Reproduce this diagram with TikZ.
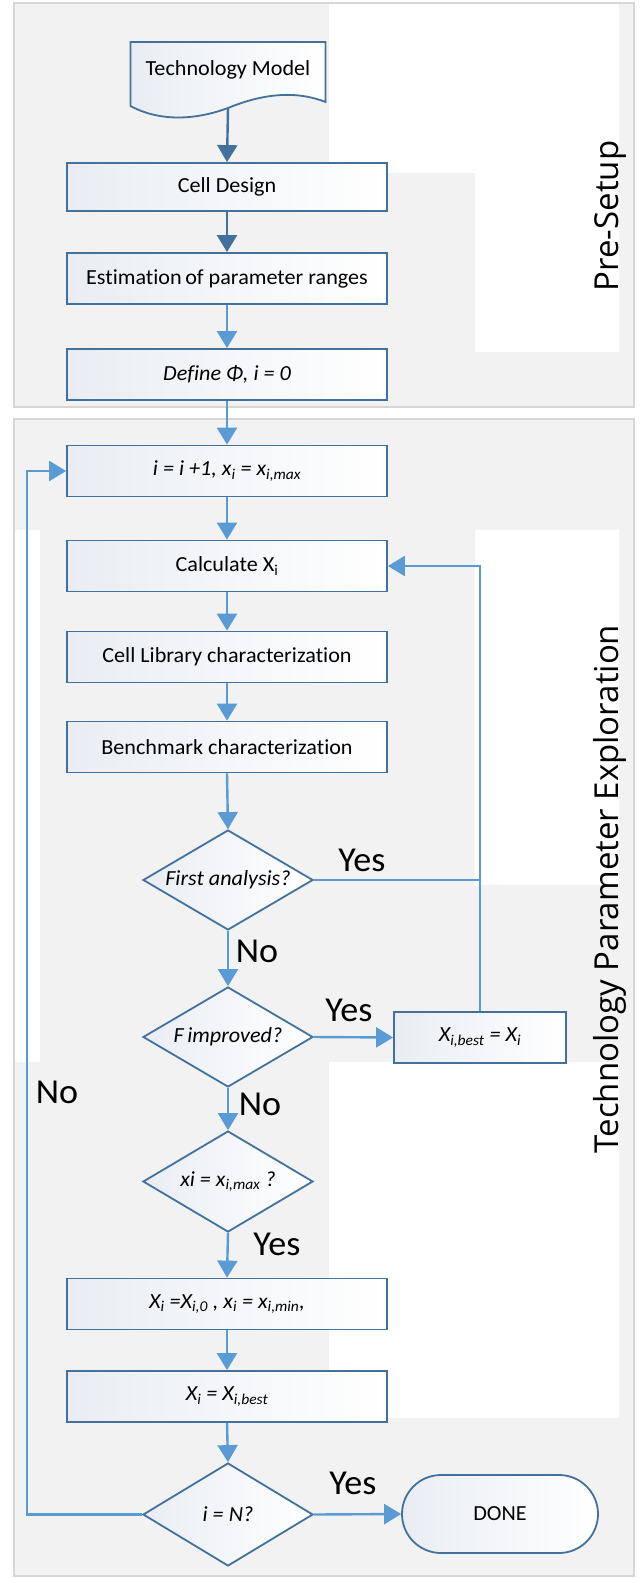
\documentclass[tikz,border=0pt]{standalone}
\usepackage{fontspec}
\setmainfont{Carlito}[Ligatures=NoCommon]
\newfontfamily\boxfam[FakeStretch=1.03,Ligatures=NoCommon,RawFeature={-clig}]{Carlito}
\newfontfamily\titlefam{Open Sans}
\usetikzlibrary{arrows.meta,shapes.geometric}
\definecolor{bdr}{HTML}{41719C}
\definecolor{arr}{HTML}{5B9BD5}
\definecolor{darkarr}{HTML}{41719C}
\definecolor{boxl}{HTML}{E9EDF3}
\definecolor{panelbg}{HTML}{F2F2F2}
\definecolor{panelline}{HTML}{D6D6D6}
\tikzset{
  box/.style={draw=bdr, line width=1.8pt, left color=boxl, right color=white,
    minimum width=320pt, minimum height=51pt, inner sep=0pt,
    font=\boxfam\fontsize{21.5}{25}\selectfont},
  dia/.style={diamond, draw=bdr, line width=1.8pt, left color=boxl, right color=white,
    minimum width=170pt, minimum height=100pt, inner sep=0pt,
    label={[font=\boxfam\itshape\fontsize{21.5}{25}\selectfont]center:#1}},
  lab/.style={font=\boxfam\fontsize{35}{40}\selectfont, inner sep=0pt},
  ttl/.style={font=\titlefam\fontsize{33}{38}\selectfont, rotate=90, anchor=base, inner sep=0pt},
  larr/.style={draw=arr, line width=2.4pt, -{Triangle[length=17pt,width=20pt]}},
  dkarr/.style={draw=darkarr, line width=2.4pt, -{Triangle[length=17pt,width=20pt]}},
  lline/.style={draw=arr, line width=2.4pt},
  panel/.style={draw=panelline, line width=1.5pt},
}
\begin{document}
\begin{tikzpicture}[x=1pt,y=-1pt]
\useasboundingbox (0,0) rectangle (644,1578);
% panels
\fill[panelbg] (14,3) rectangle (634,407);
\fill[panelbg] (14,419) rectangle (634,1576);
\fill[white] (329,4) rectangle (619,173);
\fill[white] (475,173) rectangle (619,352);
\fill[white] (15,530) rectangle (40,1062);
\fill[white] (475,530) rectangle (619,885);
\fill[white] (329,1062) rectangle (619,1418);
\draw[panel] (14,3) rectangle (634,407);
\draw[panel] (14,419) rectangle (634,1576);
% titles
\node[ttl] (t1) at (618,216) {Pre-Setup};
\node[ttl] (t2) at (618,889) {Technology Parameter Exploration};
% document shape
\draw[draw=bdr, line width=1.8pt, left color=boxl, right color=white]
  (130.5,42) -- (325.5,42) -- (325.5,102)
  .. controls (295,90) and (262,94) .. (228,108)
  .. controls (196,120) and (160,122) .. (130.5,106) -- cycle;
\node[font=\boxfam\fontsize{21.5}{25}\selectfont, inner sep=0pt] (tm) at (228,70) {Technology Model};
\coordinate (tmb) at (228,108);
% boxes
\node[box, minimum height=48pt] (cd) at (227,187) {Cell Design};
\node[box] (est) at (227,278.5) {Estimation\,of parameter ranges};
\node[box] (def) at (227,374.5) {\itshape Define Φ, i = 0};
\node[box] (inc) at (227,471) {\itshape i = i +1, x\textsubscript{i} = x\textsubscript{i,max}};
\node[box] (calc) at (227,566) {Calculate X\textsubscript{i}};
\node[box] (lib) at (227,657) {Cell Library characterization};
\node[box] (bench) at (227,747) {Benchmark characterization};
\node[dia={First analysis?}] (d1) at (228,880) {};
\node[dia={F\,improved?}] (d2) at (228,1037) {};
\node[box, minimum width=172pt, font=\boxfam\itshape\fontsize{21.5}{25}\selectfont] (best) at (480,1037.5) {X\textsubscript{i,best} = X\textsubscript{i}};
\node[dia={xi = x\textsubscript{i,max} ?}, minimum height=101pt] (d3) at (228,1181.5) {};
\node[box, font=\boxfam\itshape\fontsize{21.5}{25}\selectfont] (reset) at (227,1304) {X\textsubscript{i} =X\textsubscript{i,0} , x\textsubscript{i} = x\textsubscript{i,min},};
\node[box, font=\boxfam\itshape\fontsize{21.5}{25}\selectfont] (setbest) at (227,1396.5) {X\textsubscript{i} = X\textsubscript{i,best}};
\node[dia={i = N?}, minimum height=103pt] (d4) at (228,1514.5) {};
\node[box, minimum width=196pt, minimum height=78pt, rounded corners=39pt] (done) at (500,1514) {DONE};
% junctions
\coordinate (j1) at (480,880);
\coordinate (j2) at (480,566);
\coordinate (l1) at (27,1514.5);
\coordinate (l2) at (27,471);
% connectors
\draw[dkarr] (tmb) -- (cd.north);
\draw[dkarr] (cd) -- (est);
\draw[larr] (est) -- (def);
\draw[larr] (def) -- (inc);
\draw[larr] (inc) -- (calc);
\draw[larr] (calc) -- (lib);
\draw[larr] (lib) -- (bench);
\draw[larr] (bench.south) -- (d1.north);
\draw[lline] (d1.east) -- (j1);
\draw[lline] (best.north) -- (j1);
\draw[larr] (j1) -- (j2) -- (calc.east);
\draw[larr] (d1.south) -- (d2.north);
\draw[larr] (d2.east) -- (best.west);
\draw[larr] (d2.south) -- (d3.north);
\draw[larr] (d3.south) -- (reset.north);
\draw[larr] (reset) -- (setbest);
\draw[larr] (setbest.south) -- (d4.north);
\draw[larr] (d4.east) -- (done.west);
\draw[larr] (d4.west) -- (l1) -- (l2) -- (inc.west);
% labels
\node[lab] (y1) at (362,860) {Yes};
\node[lab] (n1) at (257,951) {No};
\node[lab] (y2) at (349,1010) {Yes};
\node[lab] (nl) at (57,1092) {No};
\node[lab] (n2) at (260,1104) {No};
\node[lab] (y3) at (277,1244) {Yes};
\node[lab] (y4) at (353,1483) {Yes};
\end{tikzpicture}
\end{document}
